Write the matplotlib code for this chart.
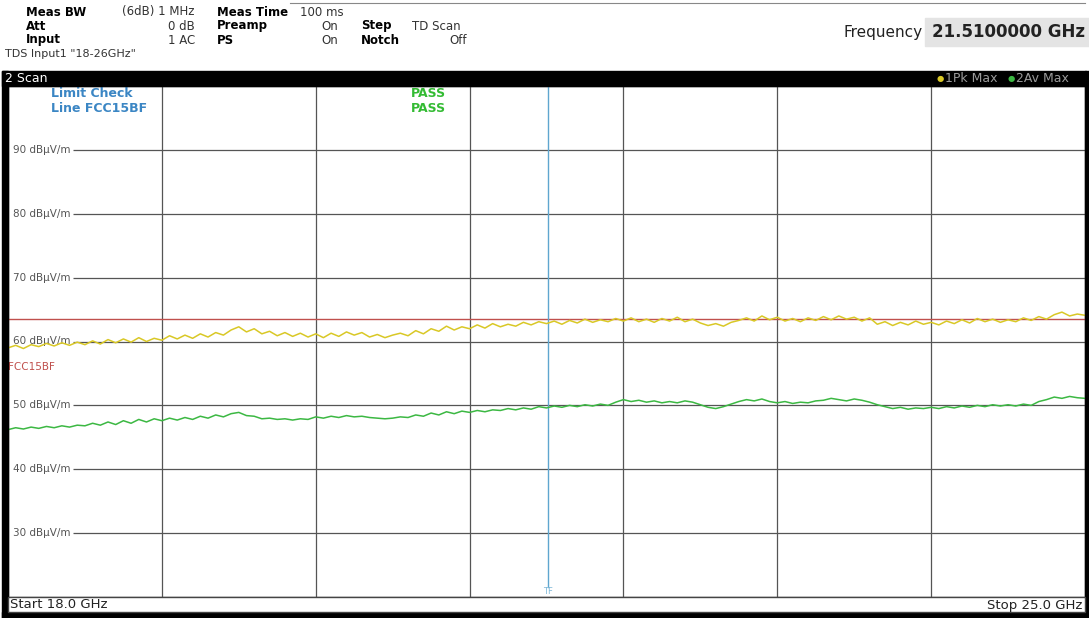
import numpy as np
import matplotlib
matplotlib.use('Agg')
import matplotlib.pyplot as plt
from matplotlib.patches import Rectangle

# размеры картинки в пикселях
W, H = 1089, 618

# развертка 18..25 ГГц
f_start = 18.0
f_stop = 25.0
f_marker = 21.51  # TF
limit_fcc = 63.5  # FCC15BF, dBuV/m

y_levels = [30, 40, 50, 60, 70, 80, 90]
y_unit = 'dBµV/m'

# 1Pk Max, шаг 0.05 ГГц
pk = [59.0, 59.4, 58.9, 59.5, 59.2, 59.7, 59.3, 59.8, 59.4, 59.9,
      59.5, 60.1, 59.6, 60.3, 59.8, 60.4, 59.9, 60.6, 60.0, 60.5,
      60.2, 60.9, 60.4, 61.0, 60.5, 61.2, 60.7, 61.4, 61.0, 61.8,
      62.3, 61.5, 62.0, 61.2, 61.6, 60.9, 61.4, 60.8, 61.3, 60.7,
      61.2, 60.6, 61.3, 60.8, 61.5, 61.0, 61.4, 60.7, 61.1, 60.6,
      61.0, 61.3, 60.9, 61.7, 61.2, 62.0, 61.6, 62.4, 61.8, 62.3,
      62.0, 62.6, 62.1, 62.8, 62.3, 62.7, 62.4, 63.0, 62.6, 63.1,
      62.8, 63.2, 62.7, 63.3, 62.9, 63.5, 63.0, 63.4, 63.1, 63.6,
      63.2, 63.7, 63.1, 63.5, 63.0, 63.6, 63.2, 63.8, 63.1, 63.5,
      62.9, 62.5, 62.8, 62.4, 63.0, 63.3, 63.7, 63.2, 64.0, 63.4,
      63.8, 63.2, 63.6, 63.1, 63.7, 63.3, 63.9, 63.4, 64.0, 63.5,
      63.8, 63.2, 63.7, 62.7, 63.1, 62.5, 63.0, 62.6, 63.2, 62.7,
      63.0, 62.6, 63.2, 62.8, 63.4, 62.9, 63.6, 63.1, 63.5, 63.0,
      63.4, 63.1, 63.7, 63.3, 63.9, 63.5, 64.2, 64.6, 64.0, 64.3,
      64.1]

# 2Av Max
av = [46.2, 46.5, 46.3, 46.6, 46.4, 46.7, 46.5, 46.8, 46.6, 46.9,
      46.8, 47.2, 46.9, 47.4, 47.0, 47.6, 47.2, 47.8, 47.4, 47.9,
      47.6, 48.0, 47.7, 48.1, 47.8, 48.3, 48.0, 48.5, 48.2, 48.7,
      48.9, 48.4, 48.3, 47.9, 48.0, 47.8, 47.9, 47.7, 47.9, 47.8,
      48.2, 48.0, 48.3, 48.1, 48.4, 48.2, 48.3, 48.1, 48.0, 47.9,
      48.0, 48.2, 48.1, 48.5, 48.3, 48.8, 48.5, 49.0, 48.7, 49.1,
      48.9, 49.2, 49.0, 49.3, 49.2, 49.5, 49.3, 49.6, 49.4, 49.8,
      49.6, 49.9, 49.7, 50.0, 49.8, 50.1, 49.9, 50.2, 50.0, 50.5,
      50.9, 50.6, 50.8, 50.5, 50.7, 50.4, 50.6, 50.4, 50.7, 50.5,
      50.1, 49.7, 49.5, 49.8, 50.2, 50.6, 50.9, 50.7, 51.0, 50.6,
      50.4, 50.6, 50.3, 50.5, 50.4, 50.7, 50.8, 51.1, 50.9, 50.7,
      51.0, 50.8, 50.5, 50.1, 49.8, 49.5, 49.7, 49.4, 49.6, 49.5,
      49.7, 49.5, 49.8, 49.6, 49.9, 49.7, 50.0, 49.8, 50.1, 49.9,
      50.1, 49.9, 50.2, 50.0, 50.6, 50.9, 51.3, 51.1, 51.4, 51.2,
      51.1]

freq = np.linspace(f_start, f_stop, len(pk))


def px(x, y):
    '''пиксели -> доли фигуры'''
    return x / W, 1.0 - y / H


fig = plt.figure(figsize=(W / 100, H / 100), dpi=100)
fig.patch.set_facecolor('white')

def rect(x0, y0, x1, y1, **kw):
    fx, fy = px(x0, y1)
    fig.patches.append(Rectangle((fx, fy), (x1 - x0) / W, (y1 - y0) / H,
                                 transform=fig.transFigure, **kw))

# область графика
ax = fig.add_axes([8 / W, (H - 597) / H, 1077 / W, 511 / H])
ax.set_xlim(f_start, f_stop)
ax.set_ylim(20, 100)
ax.set_xticks([])
ax.set_yticks([])
for s in ax.spines.values():
    s.set_color('#444444')
    s.set_linewidth(1.0)

grid_c = '#555555'
for fx in np.arange(19, 25):
    ax.axvline(fx, color=grid_c, lw=0.9, zorder=1)
for lv in y_levels:
    ax.hlines(lv, 18.42, f_stop, color=grid_c, lw=0.9, zorder=1)
    ax.text(18.03, lv, '%d %s' % (lv, y_unit), fontsize=7.5, color='#555555',
            va='center', ha='left', zorder=2)

# предельная линия
ax.axhline(limit_fcc, color='#c0504d', lw=1.0, zorder=3)
ax.text(18.0, 56.0, 'FCC15BF', fontsize=7.5, color='#c0504d', va='center',
        ha='left')

# маркер TF
ax.plot([f_marker, f_marker], [21.5, 100], color='#5fa6cf', lw=1.0, zorder=3)
ax.text(f_marker, 20.8, 'TF', fontsize=6, color='#7fb8d8', ha='center',
        va='center')

# трассы
ax.plot(freq, pk, color='#d9c826', lw=1.1, zorder=4)
ax.plot(freq, av, color='#3cb843', lw=1.1, zorder=4)

# Limit Check
ax.text(18.28, 98.8, 'Limit Check', fontsize=9, color='#3b86c4',
        fontweight='bold', va='center', ha='left')
ax.text(18.28, 96.4, 'Line FCC15BF', fontsize=9, color='#3b86c4',
        fontweight='bold', va='center', ha='left')
ax.text(20.73, 98.8, 'PASS', fontsize=9, color='#33bb33',
        fontweight='bold', va='center', ha='center')
ax.text(20.73, 96.4, 'PASS', fontsize=9, color='#33bb33',
        fontweight='bold', va='center', ha='center')

# рамки
rect(2, 71, 1086, 86, color='black')
rect(2, 71, 8, 618, color='black')
rect(1085, 71, 1089, 618, color='black')
rect(2, 612, 1089, 618, color='black')
rect(8, 597, 1085, 612, facecolor='white', edgecolor='#444444', lw=1.0)
rect(925, 18, 1089, 46, color='#e4e4e4')

fig.lines.append(plt.Line2D([290 / W, 1085 / W], [1 - 3 / H, 1 - 3 / H],
                            transform=fig.transFigure, color='#888888',
                            lw=0.8))

def t(x, y, s, **kw):
    fx, fy = px(x, y)
    kw.setdefault('fontsize', 8.5)
    kw.setdefault('va', 'center')
    fig.text(fx, fy, s, **kw)

# шапка
t(26, 12, 'Meas BW', fontweight='bold')
t(195, 12, '(6dB) 1 MHz', ha='right', color='#333333')
t(26, 26, 'Att', fontweight='bold')
t(195, 26, '0 dB', ha='right', color='#333333')
t(26, 40, 'Input', fontweight='bold')
t(195, 40, '1 AC', ha='right', color='#333333')
t(217, 12, 'Meas Time', fontweight='bold')
t(300, 12, '100 ms', color='#333333')
t(217, 26, 'Preamp', fontweight='bold')
t(338, 26, 'On', ha='right', color='#333333')
t(217, 40, 'PS', fontweight='bold')
t(338, 40, 'On', ha='right', color='#333333')
t(361, 26, 'Step', fontweight='bold')
t(412, 26, 'TD Scan', color='#333333')
t(361, 40, 'Notch', fontweight='bold')
t(467, 40, 'Off', ha='right', color='#333333')
t(5, 54, 'TDS Input1 "18-26GHz"', fontsize=8, color='#333333')

t(923, 32, 'Frequency', fontsize=11, ha='right', color='#222222')
t(1085, 32, '21.5100000 GHz', fontsize=12, ha='right', fontweight='bold',
  color='#222222')

# полоса "2 Scan"
t(5, 79, '2 Scan', fontsize=9, color='white')
t(937, 79, '\u25cf', fontsize=6, color='#d9c826')
t(945, 79, '1Pk Max', fontsize=9, color='#9a9a9a')
t(1008, 79, '\u25cf', fontsize=6, color='#3cb843')
t(1016, 79, '2Av Max', fontsize=9, color='#9a9a9a')

# нижняя полоса
t(10, 605, 'Start 18.0 GHz', fontsize=9.5, color='#222222')
t(1082, 605, 'Stop 25.0 GHz', fontsize=9.5, ha='right', color='#222222')

fig.savefig('out.png', dpi=100)
